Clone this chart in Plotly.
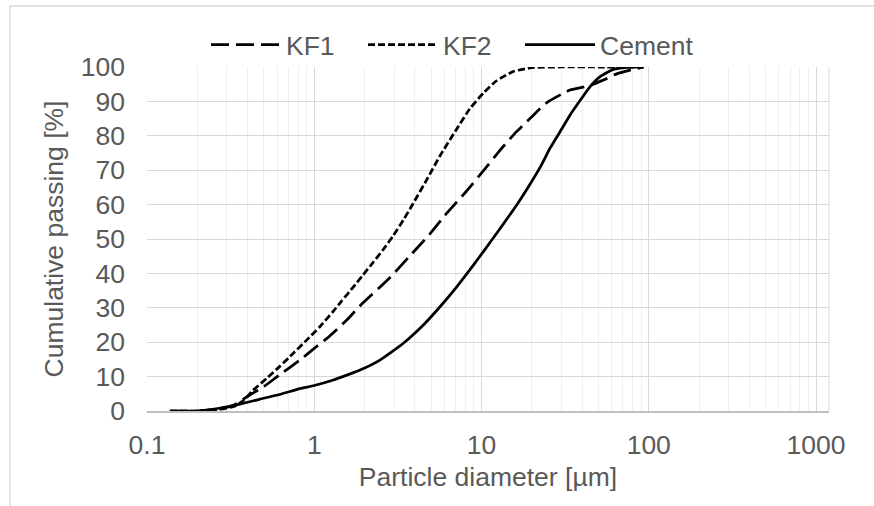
import plotly.graph_objects as go

# ---- data ----
kf1_x = [0.137, 0.2, 0.27, 0.33, 0.41, 0.5, 0.62, 0.82, 1.0, 1.19, 1.57, 1.88, 2.84, 3.65,
         4.92, 6.2, 8.16, 10.25, 13.0, 16.2, 19.5, 24.5, 33.8, 44.6, 53.5, 64.3, 77.3, 93]
kf1_y = [0, 0, 0.6, 1.7, 4.6, 7.1, 10.5, 14.8, 18.2, 21.1, 26.5, 30.6, 38.8, 44.6,
         51.5, 57.5, 64.0, 69.8, 76.0, 81.2, 85.0, 89.6, 93.3, 94.6, 96.2, 98.0, 99.1, 100]

kf2_x = [0.137, 0.2, 0.27, 0.33, 0.38, 0.43, 0.52, 0.62, 0.75, 0.9, 1.08, 1.3, 1.46, 1.71,
         1.96, 2.25, 2.59, 2.97, 3.41, 3.91, 4.7, 5.65, 7.11, 8.5, 10.25, 12.3, 15.5, 20, 30, 50, 93]
kf2_y = [0, 0, 0.5, 1.3, 3.2, 6.0, 9.5, 12.9, 16.8, 20.6, 24.5, 29.0, 32.0, 36.0,
         39.6, 43.2, 47.0, 51.0, 55.5, 60.4, 67.2, 74.2, 82.0, 87.8, 92.4, 96.0, 98.7, 99.8, 100, 100, 100]

cem_x = [0.137, 0.2, 0.27, 0.36, 0.47, 0.62, 0.82, 1.0, 1.3, 1.64, 1.88, 2.47, 3.41, 4.49,
         5.65, 7.11, 8.94, 10.5, 12.3, 16.2, 19.5, 22.4, 25.7, 29.5, 33.8, 39.7, 44.6, 51.2,
         61.4, 73.8, 93]
cem_y = [0, 0, 0.8, 2.0, 3.4, 4.8, 6.5, 7.4, 9.0, 10.8, 11.9, 14.8, 19.7, 25.0,
         30.3, 36.1, 42.4, 47.0, 51.6, 59.8, 65.9, 70.8, 76.4, 81.2, 86.0, 90.9, 94.3, 97.2,
         99.3, 99.9, 100]

x_tick_vals = [0.1, 1, 10, 100, 1000]
x_tick_text = ["0.1", "1", "10", "100", "1000"]
y_tick_vals = [0, 10, 20, 30, 40, 50, 60, 70, 80, 90, 100]

series = [
    ("KF1", kf1_x, kf1_y, "18px,7px", 72),
    ("KF2", kf2_x, kf2_y, "7px,3px", 72),
    ("Cement", cem_x, cem_y, "solid", None),
]

FONT = "Liberation Sans, Arial, sans-serif"
GRAY = "#595959"
FS = 26.5

fig = go.Figure()
for name, xs, ys, dash, lw in series:
    tr = dict(
        x=xs, y=ys, name=name, mode="lines",
        line=dict(color="black", width=2.75, dash=dash, shape="spline", smoothing=0.5),
    )
    if lw is not None:
        tr["legendwidth"] = lw
    fig.add_trace(go.Scatter(**tr))

minor_vals = [m * 10 ** e for e in range(-1, 3) for m in range(2, 10)]

W, H = 874, 506
L, R, T, B = 147, 829, 67, 411
pw, ph = R - L, B - T

fig.update_layout(
    width=W, height=H,
    margin=dict(l=L, r=W - R, t=T, b=H - B, autoexpand=False),
    paper_bgcolor="white", plot_bgcolor="white",
    font=dict(family=FONT, size=FS, color=GRAY),
    showlegend=True,
    legend=dict(
        orientation="h", x=(206 - L) / pw, xanchor="left",
        y=(B - 45) / ph, yanchor="middle",
        itemwidth=70,
        font=dict(family=FONT, size=FS, color=GRAY),
        bgcolor="rgba(0,0,0,0)", tracegroupgap=0,
    ),
    xaxis=dict(
        type="log", range=[-1, 3.0777],
        tickvals=x_tick_vals, ticktext=x_tick_text,
        showgrid=True, gridcolor="#d9d9d9", gridwidth=1.3,
        minor=dict(tickvals=minor_vals, showgrid=True, gridcolor="#efefef", gridwidth=1.3, ticks=""),
        showline=True, linecolor="#bfbfbf", linewidth=1.5,
        ticks="", ticklabelstandoff=9,
        zeroline=False,
        title=dict(text="Particle diameter [µm]", font=dict(family=FONT, size=FS, color=GRAY), standoff=9),
        tickfont=dict(family=FONT, size=FS, color=GRAY),
    ),
    yaxis=dict(
        range=[0, 100], tickvals=y_tick_vals,
        showgrid=True, gridcolor="#d9d9d9", gridwidth=1.3,
        showline=False, zeroline=False,
        ticks="", ticklabelstandoff=21,
        title=dict(text="Cumulative passing [%]", font=dict(family=FONT, size=FS, color=GRAY), standoff=9),
        tickfont=dict(family=FONT, size=FS, color=GRAY),
    ),
)

# plot-area right border and outer chart border
fig.add_shape(type="line", xref="paper", yref="paper", x0=1, x1=1, y0=0, y1=1,
              line=dict(color="#e3e3e3", width=1.3), layer="below")
fig.add_shape(type="rect", xref="paper", yref="paper",
              x0=(10 - L) / pw, x1=(890 - L) / pw,
              y0=(B - 520) / ph, y1=(B - 6) / ph,
              line=dict(color="#d9d9d9", width=1.3), fillcolor="rgba(0,0,0,0)", layer="below")

fig.write_html("out.html")
